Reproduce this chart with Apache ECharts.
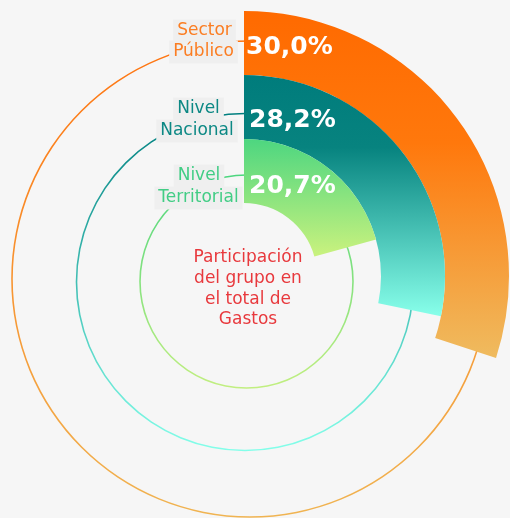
<!DOCTYPE html>
<html>
<head>
<meta charset="utf-8">
<script src="https://cdn.jsdelivr.net/npm/echarts@6/dist/echarts.min.js"></script>
<style>
html,body{margin:0;padding:0;background:#f6f6f6;}
#chart{width:510px;height:518px;}
</style>
</head>
<body>
<div id="chart"></div>
<script>
// ---- data ----
const categories = ['Sector Público', 'Nivel Nacional', 'Nivel Territorial'];
const categoryLines = [['Sector', 'Público'], ['Nivel', 'Nacional'], ['Nivel', 'Territorial']];
const values = [30.0, 28.2, 20.7];
const total = 100;
const centerLines = ['Participación', 'del grupo en', 'el total de', 'Gastos'];

// ---- styles ----
const FONT = '"DejaVu Sans", Verdana, sans-serif';
const barCenter = [244, 276];
const barRadii = [[201, 265], [137, 201], [73, 137]];
const barStops = [
  [[0, '#ff6a00'], [0.38, '#ff780c'], [1, '#efbb5f']],
  [[0, '#007c7c'], [0.3, '#07837f'], [1, '#88ffea']],
  [[0, '#4dd680'], [1, '#caf27e']]
];
const ringGeo = [
  { c: [250, 279], r: 238 },
  { c: [245, 282], r: 168.5 },
  { c: [246.5, 281.5], r: 106.5 }
];
const ringStops = [
  [[0, '#ff7410'], [1, '#f0b452']],
  [[0, '#007f7f'], [1, '#84ffea']],
  [[0, '#4cd67f'], [1, '#c2ef80']]
];
const textColors = ['#fb7d22', '#0c8884', '#42cd85'];
const catPos = [
  [{ x: 204.5, y: 31 }, { x: 203.5, y: 52 }],
  [{ x: 198.5, y: 109 }, { x: 197, y: 131 }],
  [{ x: 199, y: 176 }, { x: 198.5, y: 198 }]
];
const valuePos = [{ x: 246, y: 47 }, { x: 249, y: 120 }, { x: 249, y: 186 }];

function grad(stops) {
  return new echarts.graphic.LinearGradient(0, 0, 0, 1,
    stops.map(s => ({ offset: s[0], color: s[1] })));
}

const series = [];
// outline rings
ringGeo.forEach((g, i) => {
  series.push({
    type: 'pie', name: categories[i] + ' ring', silent: true, animation: false,
    center: g.c, radius: [g.r - 0.8, g.r + 0.8], z: 1,
    label: { show: false }, labelLine: { show: false },
    emphasis: { disabled: true },
    data: [{ value: 1, itemStyle: { color: grad(ringStops[i]) } }]
  });
});
// bars
values.forEach((v, i) => {
  series.push({
    type: 'pie', name: categories[i], silent: true, animation: false,
    center: barCenter, radius: barRadii[i], startAngle: 90, clockwise: true, z: 3,
    avoidLabelOverlap: false,
    label: { show: false }, labelLine: { show: false },
    emphasis: { disabled: true },
    data: [
      { value: v, name: categories[i], itemStyle: { color: grad(barStops[i]) } },
      { value: total - v, name: 'resto', itemStyle: { color: 'rgba(0,0,0,0)' } }
    ]
  });
});

const graphics = [];
categoryLines.forEach((lines, i) => {
  lines.forEach((t, j) => {
    graphics.push({
      type: 'text', x: catPos[i][j].x, y: catPos[i][j].y, z: 100,
      style: {
        text: t, fill: textColors[i], font: '17px ' + FONT,
        align: 'center', verticalAlign: 'middle',
        backgroundColor: '#efefef', padding: [3, 4]
      }
    });
  });
});
values.forEach((v, i) => {
  graphics.push({
    type: 'text', x: valuePos[i].x, y: valuePos[i].y, z: 100,
    style: {
      text: v.toFixed(1).replace('.', ',') + '%', fill: '#ffffff',
      font: 'bold 25px ' + FONT, align: 'left', verticalAlign: 'middle'
    }
  });
});
graphics.push({
  type: 'text', x: 248, y: 289, z: 100,
  style: {
    text: centerLines.join('\n'), fill: '#e8393d', font: '17px ' + FONT,
    lineHeight: 20.7, align: 'center', verticalAlign: 'middle'
  }
});

const chart = echarts.init(document.getElementById('chart'), null, { renderer: 'canvas' });
chart.setOption({
  backgroundColor: '#f6f6f6',
  animation: false,
  series: series,
  graphic: graphics
});
</script>
</body>
</html>
